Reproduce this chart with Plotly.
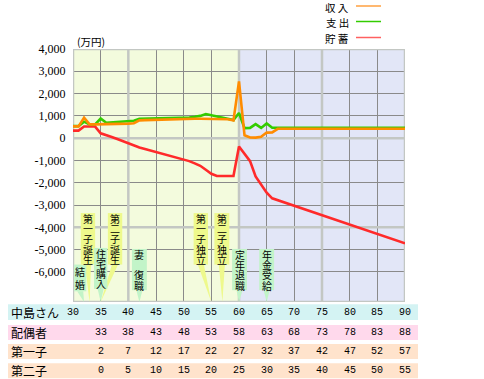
import plotly.graph_objects as go

# ---------------- data ----------------
ages = list(range(30, 91))
income = [530, 530, 920, 620, 620, 620, 625, 630, 640, 645,
          650, 670, 800, 810, 820, 830, 840, 845, 850, 855,
          860, 865, 870, 870, 870, 870, 870, 865, 850, 800,
          2550, 130, 30, 25, 60, 250, 260, 420, 420, 420,
          420, 420, 420, 420, 420, 420, 420, 420, 420, 420,
          420, 420, 420, 420, 420, 420, 420, 420, 420, 420, 420]
expense = [540, 540, 740, 620, 620, 880, 690, 710, 730, 750,
           760, 780, 870, 875, 880, 885, 890, 895, 900, 905,
           910, 930, 960, 1000, 1080, 1030, 970, 920, 870, 810,
           1130, 450, 460, 630, 460, 660, 470, 470, 470, 470,
           470, 470, 470, 470, 470, 470, 470, 470, 470, 470,
           470, 470, 470, 470, 470, 470, 470, 470, 470, 470, 470]
savings = [340, 340, 520, 520, 520, 220, 150, 55, -40, -140,
           -235, -330, -420, -485, -550, -615, -680, -740, -805, -870,
           -935, -1030, -1130, -1240, -1420, -1600, -1700, -1700, -1700, -1700,
           -370, -700, -1030, -1720, -2100, -2450, -2700, -2785, -2870, -2955,
           -3040, -3120, -3205, -3290, -3375, -3460, -3545, -3625, -3710, -3795,
           -3880, -3960, -4045, -4130, -4215, -4300, -4380, -4465, -4550, -4635, -4720]

series_names = ["収入", "支出", "貯蓄"]
y_ticks = [4000, 3000, 2000, 1000, 0, -1000, -2000, -3000, -4000, -5000, -6000]

event_names = ["結婚", "第一子誕生", "住宅購入", "第二子誕生", "妻 復職",
               "第一子独立", "第二子独立", "定年退職", "年金受給"]
event_ages = [32, 33, 35, 35, 42, 55, 57, 60, 65]

table_labels = ["中島さん", "配偶者", "第一子", "第二子"]
table_ages = [30, 35, 40, 45, 50, 55, 60, 65, 70, 75, 80, 85, 90]
row_self = ["30", "35", "40", "45", "50", "55", "60", "65", "70", "75", "80", "85", "90"]
row_spouse = ["", "33", "38", "43", "48", "53", "58", "63", "68", "73", "78", "83", "88"]
row_child1 = ["", "2", "7", "12", "17", "22", "27", "32", "37", "42", "47", "52", "57"]
row_child2 = ["", "0", "5", "10", "15", "20", "25", "30", "35", "40", "45", "50", "55"]

# ---------------- styling / layout ----------------
W, H = 484, 379
PL, PR, PT, PB = 73, 405, 49, 302
YMIN, YMAX = -7350, 4000

def px_x(px):
    return (px - PL) / (PR - PL)

def px_y(py):
    return (PB - py) / (PB - PT)

C_INC = "#ff8c00"
C_EXP = "#33cc00"
C_SAV = "#ff2a2a"
YELLOW = "#eef98c"
GREEN = "#c2f4c8"

fig = go.Figure()
fig.add_trace(go.Scatter(x=ages, y=savings, mode="lines", name=series_names[2],
                         line=dict(color=C_SAV, width=2.6), showlegend=False))
fig.add_trace(go.Scatter(x=ages, y=expense, mode="lines", name=series_names[1],
                         line=dict(color=C_EXP, width=2.6), showlegend=False))
fig.add_trace(go.Scatter(x=ages, y=income, mode="lines", name=series_names[0],
                         line=dict(color=C_INC, width=2.6), showlegend=False))

shapes = []
annotations = []

# background zones
shapes.append(dict(type="rect", xref="x", yref="y", x0=30, x1=60, y0=YMIN, y1=YMAX,
                   fillcolor="#f3fbdd", line_width=0, layer="below"))
shapes.append(dict(type="rect", xref="x", yref="y", x0=60, x1=90, y0=YMIN, y1=YMAX,
                   fillcolor="#e2e6f7", line_width=0, layer="below"))

# thick light grid lines
for a in [40, 60, 75]:
    shapes.append(dict(type="line", xref="x", yref="y", x0=a, x1=a, y0=YMIN, y1=YMAX,
                       line=dict(color="#c3c7c3", width=2.5), layer="between"))
for v in [0, -4000]:
    shapes.append(dict(type="line", xref="x", yref="y", x0=30, x1=90, y0=v, y1=v,
                       line=dict(color="#c3c7c3", width=2.5), layer="between"))
shapes.append(dict(type="rect", xref="x", yref="y", x0=30, x1=90, y0=YMIN, y1=YMAX,
                   line=dict(color="#c3c7c3", width=2.5), layer="between"))

# callouts: (offset of box from event age, box half width, top, bottom, colour)
callout_style = [
    (-0.7, 1.1, -5670, -6870, GREEN),
    (-0.3, 1.3, -3360, -5670, YELLOW),
    (0.0, 1.2, -4925, -6760, GREEN),
    (2.6, 1.3, -3360, -5670, YELLOW),
    (0.0, 1.35, -4970, -6820, GREEN),
    (-1.9, 1.3, -3360, -5670, YELLOW),
    (-0.1, 1.35, -3360, -5670, YELLOW),
    (0.1, 1.35, -4970, -6820, GREEN),
    (0.0, 1.35, -4970, -6820, GREEN),
]
# pointers first (behind boxes)
for name, age, st in zip(event_names, event_ages, callout_style):
    off, hw, top, bot, col = st
    cx = age + off
    path = f"M {cx-0.55},{bot} L {cx+0.55},{bot} L {age},{YMIN} Z"
    shapes.append(dict(type="path", xref="x", yref="y", path=path,
                       fillcolor=col, line_width=0, layer="above"))
for name, age, st in zip(event_names, event_ages, callout_style):
    off, hw, top, bot, col = st
    cx = age + off
    shapes.append(dict(type="rect", xref="x", yref="y", x0=cx - hw, x1=cx + hw,
                       y0=bot, y1=top, fillcolor=col, line_width=0, layer="above"))
    n = len(name)
    step = (bot - top) / n
    for i, ch in enumerate(name):
        if ch == " ":
            continue
        annotations.append(dict(x=cx, y=top + (i + 0.5) * step, xref="x", yref="y",
                                text=ch, showarrow=False, borderpad=0,
                                font=dict(size=10, color="black",
                                          family="Noto Sans CJK JP")))

# unit label
annotations.append(dict(x=px_x(75), y=px_y(42), xref="paper", yref="paper",
                        text="(万円)", showarrow=False, xanchor="left", yanchor="middle",
                        font=dict(size=10.5, color="black", family="Noto Sans CJK JP")))

# manual legend
leg = [("収 入", "#ffa040", 7), ("支 出", "#33cc00", 22.5), ("貯 蓄", "#ff6060", 38.5)]
for txt, col, py in leg:
    annotations.append(dict(x=px_x(337), y=px_y(py), xref="paper", yref="paper",
                            text=txt, showarrow=False, xanchor="center", yanchor="middle",
                            borderpad=0,
                            font=dict(size=10.5, color="black", family="Noto Sans CJK JP")))
    shapes.append(dict(type="line", xref="paper", yref="paper",
                       x0=px_x(356), x1=px_x(381), y0=px_y(py - 1), y1=px_y(py - 1),
                       line=dict(color=col, width=1.5)))

# table below
rows = [row_self, row_spouse, row_child1, row_child2]
row_cols = ["#d4f3f3", "#ffd9ec", "#ffe3cc", "#ffe3cc"]
row_bands = [(304.3, 320), (325, 340), (344, 359), (363.3, 378.3)]
for lab, vals, col, (t, b) in zip(table_labels, rows, row_cols, row_bands):
    shapes.append(dict(type="rect", xref="paper", yref="paper",
                       x0=px_x(8), x1=px_x(418), y0=px_y(b), y1=px_y(t),
                       fillcolor=col, line_width=0))
    cy = px_y((t + b) / 2)
    annotations.append(dict(x=px_x(10), y=cy, xref="paper", yref="paper", text=lab,
                            showarrow=False, xanchor="left", yanchor="middle", borderpad=0,
                            font=dict(size=12, color="black", family="Noto Sans CJK JP")))
    for a, v in zip(table_ages, vals):
        if v == "":
            continue
        annotations.append(dict(x=a, y=cy, xref="x", yref="paper", text=v,
                                showarrow=False, xanchor="center", yanchor="middle",
                                borderpad=0,
                                font=dict(size=10, color="black", family="Liberation Mono")))

fig.update_layout(
    width=W, height=H, autosize=False,
    margin=dict(l=PL, r=W - PR, t=PT, b=H - PB, pad=0),
    paper_bgcolor="white", plot_bgcolor="white",
    shapes=shapes, annotations=annotations, showlegend=False,
    xaxis=dict(range=[30, 90], dtick=5, tick0=30, showgrid=True, gridcolor="#8a8a8a",
               gridwidth=1, showticklabels=False, zeroline=False, showline=False,
               fixedrange=True),
    yaxis=dict(range=[YMIN, YMAX], tickvals=y_ticks,
               ticktext=[f"{v:,}" for v in y_ticks], showgrid=True,
               gridcolor="#8a8a8a", gridwidth=1, zeroline=False, showline=False,
               ticks="outside", ticklen=4, tickcolor="rgba(0,0,0,0)",
               tickfont=dict(size=12, color="black", family="Liberation Serif"),
               fixedrange=True),
)

fig.write_html("out.html", config={"displayModeBar": False},
               post_script="document.body.style.margin='0';document.body.style.overflow='hidden';")
